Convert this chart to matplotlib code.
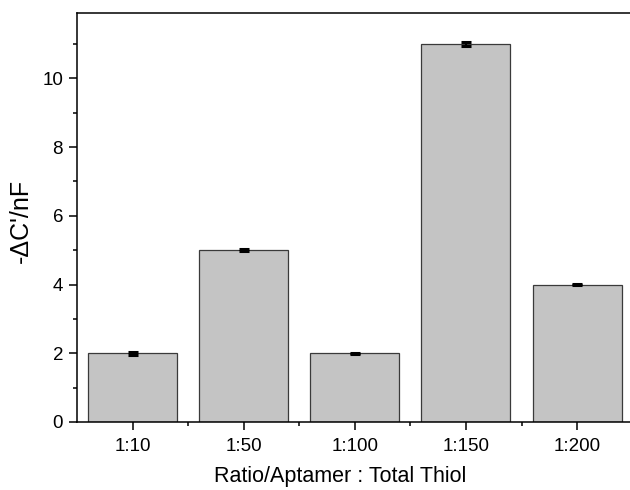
import matplotlib
matplotlib.use('Agg')
import matplotlib.pyplot as plt
from matplotlib.ticker import MultipleLocator, FixedLocator

plt.rcParams['font.family'] = ['Liberation Sans', 'DejaVu Sans']

ratios = ['1:10', '1:50', '1:100', '1:150', '1:200']
delta_c = [2.0, 5.0, 2.0, 11.0, 4.0]
errors = [0.05, 0.02, 0.02, 0.05, 0.02]

fig = plt.figure(figsize=(6.3, 4.9), dpi=100)
ax = fig.add_axes([0.1222, 0.1388, 0.882, 0.8347])

x = list(range(1, len(ratios) + 1))
ax.bar(x, delta_c, width=0.8, color='#c4c4c4', edgecolor='#3a3a3a',
       linewidth=0.9, zorder=2)
ax.errorbar(x, delta_c, yerr=errors, fmt='none', ecolor='black',
            elinewidth=1.5, capsize=3.6, capthick=2.2, zorder=3)

ax.set_xlim(0.5, 5.5)
ax.set_ylim(0, 11.9)
ax.set_xticks(x)
ax.set_xticklabels(ratios)
ax.xaxis.set_minor_locator(FixedLocator([1.5, 2.5, 3.5, 4.5]))
ax.yaxis.set_major_locator(MultipleLocator(2))
ax.yaxis.set_minor_locator(MultipleLocator(1))

for side in ['left', 'right', 'top', 'bottom']:
    ax.spines[side].set_linewidth(1.1)
ax.tick_params(which='major', direction='out', length=6, width=1.1,
               labelsize=13.5, pad=4)
ax.tick_params(axis='x', which='major', pad=5.5)
ax.tick_params(which='minor', direction='out', length=3, width=1.1)

ax.set_xlabel('Ratio/Aptamer : Total Thiol', fontsize=15.5, va='top')
ax.xaxis.set_label_coords(0.473, -0.108)
ax.set_ylabel("-\u0394C'/nF", fontsize=18)
ax.yaxis.set_label_coords(-0.079, 0.491)

fig.savefig('out.png', dpi=100)
